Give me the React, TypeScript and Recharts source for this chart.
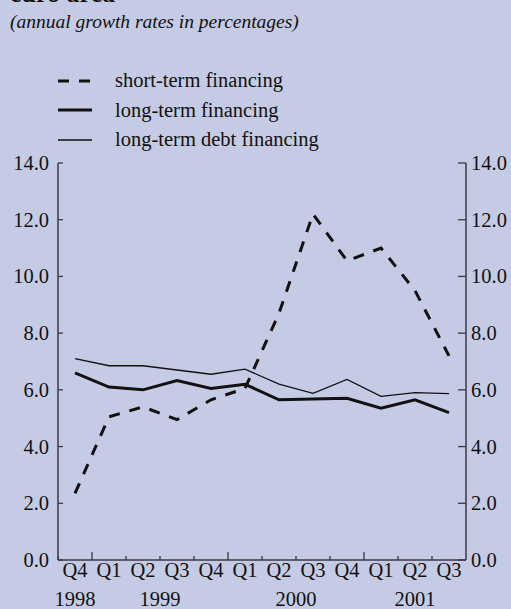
import React from 'react';
import { LineChart, Line, XAxis, YAxis } from 'recharts';

const quarters = ['Q4', 'Q1', 'Q2', 'Q3', 'Q4', 'Q1', 'Q2', 'Q3', 'Q4', 'Q1', 'Q2', 'Q3'];
const yearLabels = ['1998', '1999', '2000', '2001'];
const quartersPerYear = [1, 4, 4, 3];

const shortTerm = [2.35, 5.05, 5.4, 4.95, 5.65, 6.05, 8.7, 12.2, 10.55, 11.0, 9.5, 7.2];
const longTerm = [6.6, 6.1, 6.0, 6.33, 6.05, 6.2, 5.65, 5.68, 5.7, 5.35, 5.65, 5.2];
const longTermDebt = [7.1, 6.85, 6.85, 6.7, 6.55, 6.73, 6.2, 5.88, 6.37, 5.77, 5.9, 5.87];

const yTicks = [0, 2, 4, 6, 8, 10, 12, 14];

const W = 511;
const H = 609;
const LEFT_W = 58;
const RIGHT_W = 45;
const TOP = 163;
const XAXIS_H = 49;
const STEP = (W - LEFT_W - RIGHT_W) / quarters.length;

const BG = '#c6cbe5';
const INK = '#111';
const AXIS = '#3a3a44';
const FONT = '"Liberation Serif", "Times New Roman", serif';
const FS = 20.5;

const series = [
  { key: 'short', name: 'short-term financing', width: 3, dash: '11 10', axis: 'left' },
  { key: 'long', name: 'long-term financing', width: 3, dash: undefined, axis: 'left' },
  // same 0-14 scale as the left axis; attached right so that axis gets its ticks
  { key: 'debt', name: 'long-term debt financing', width: 1.3, dash: undefined, axis: 'right' },
];

const data = quarters.map((q, i) => ({
  q: `${q}-${i}`,
  short: shortTerm[i],
  long: longTerm[i],
  debt: longTermDebt[i],
}));

// first quarter index of each year, used to centre the year labels
const yearStart: number[] = [];
quartersPerYear.reduce((acc, n) => {
  yearStart.push(acc);
  return acc + n;
}, 0);

function XTick(props: any) {
  const { x, y, index } = props;
  const label = quarters[index];
  const bx = x - STEP / 2;
  const tall = label === 'Q1';
  const yi = yearStart.indexOf(index);
  return (
    <g>
      <line x1={bx} x2={bx} y1={y} y2={y - (tall ? 8 : 4)} stroke={AXIS} strokeWidth={1.3} />
      <text x={x} y={y + 17} textAnchor="middle" fontSize={FS} fontFamily={FONT} fill={INK}>
        {label}
      </text>
      {yi >= 0 && (
        <text
          x={x + ((quartersPerYear[yi] - 1) / 2) * STEP}
          y={y + 46}
          textAnchor="middle"
          fontSize={FS}
          fontFamily={FONT}
          fill={INK}
        >
          {yearLabels[yi]}
        </text>
      )}
    </g>
  );
}

function LeftTick(props: any) {
  const { x, y, payload } = props;
  return (
    <g>
      <line x1={x} x2={x + 5} y1={y} y2={y} stroke={AXIS} strokeWidth={1.3} />
      <text x={x - 9} y={y + 7} textAnchor="end" fontSize={FS} fontFamily={FONT} fill={INK}>
        {Number(payload.value).toFixed(1)}
      </text>
    </g>
  );
}

function RightTick(props: any) {
  const { x, y, payload } = props;
  return (
    <g>
      <line x1={x - 8} x2={x} y1={y} y2={y} stroke={AXIS} strokeWidth={1.3} />
      <text x={x + 5} y={y + 7} textAnchor="start" fontSize={FS} fontFamily={FONT} fill={INK}>
        {Number(payload.value).toFixed(1)}
      </text>
    </g>
  );
}

export default function App() {
  return (
    <div
      style={{
        position: 'absolute',
        left: 0,
        top: 0,
        width: W,
        height: H,
        background: BG,
        overflow: 'hidden',
        fontFamily: FONT,
        color: INK,
      }}
    >
      <style>{'body{margin:0}'}</style>
      <div style={{ position: 'absolute', left: 10, top: -19, fontSize: 26, lineHeight: '26px', fontWeight: 'bold' }}>
        euro area
      </div>
      <div style={{ position: 'absolute', left: 10, top: 12, fontSize: 19.5, lineHeight: '19.5px', fontStyle: 'italic' }}>
        (annual growth rates in percentages)
      </div>

      <div style={{ position: 'absolute', left: 58, top: 66 }}>
        {series.map((s) => (
          <div key={s.key} style={{ display: 'flex', alignItems: 'center', height: 29.5 }}>
            <svg width={34} height={10} style={{ marginRight: 23 }}>
              <line x1={0} x2={34} y1={5} y2={5} stroke={INK} strokeWidth={s.width} strokeDasharray={s.dash} />
            </svg>
            <span style={{ fontSize: FS }}>{s.name}</span>
          </div>
        ))}
      </div>

      <div style={{ position: 'absolute', left: 0, top: 0 }}>
        <LineChart width={W} height={H} data={data} margin={{ top: TOP, right: 0, bottom: 0, left: 0 }}>
          <XAxis
            dataKey="q"
            height={XAXIS_H}
            interval={0}
            padding={{ left: STEP / 2, right: STEP / 2 }}
            tickSize={0}
            tickMargin={0}
            tick={<XTick />}
            axisLine={{ stroke: AXIS, strokeWidth: 1.5 }}
          />
          <YAxis
            yAxisId="left"
            width={LEFT_W}
            domain={[0, 14]}
            ticks={yTicks}
            interval={0}
            tickSize={0}
            tickMargin={0}
            tick={<LeftTick />}
            axisLine={{ stroke: AXIS, strokeWidth: 1.5 }}
          />
          <YAxis
            yAxisId="right"
            orientation="right"
            width={RIGHT_W}
            domain={[0, 14]}
            ticks={yTicks}
            interval={0}
            tickSize={0}
            tickMargin={0}
            tick={<RightTick />}
            axisLine={{ stroke: AXIS, strokeWidth: 1.5 }}
          />
          {series.map((s) => (
            <Line
              key={s.key}
              yAxisId={s.axis}
              dataKey={s.key}
              stroke={INK}
              strokeWidth={s.width}
              strokeDasharray={s.dash}
              strokeLinejoin="miter"
              dot={false}
              activeDot={false}
              isAnimationActive={false}
            />
          ))}
        </LineChart>
      </div>
    </div>
  );
}
